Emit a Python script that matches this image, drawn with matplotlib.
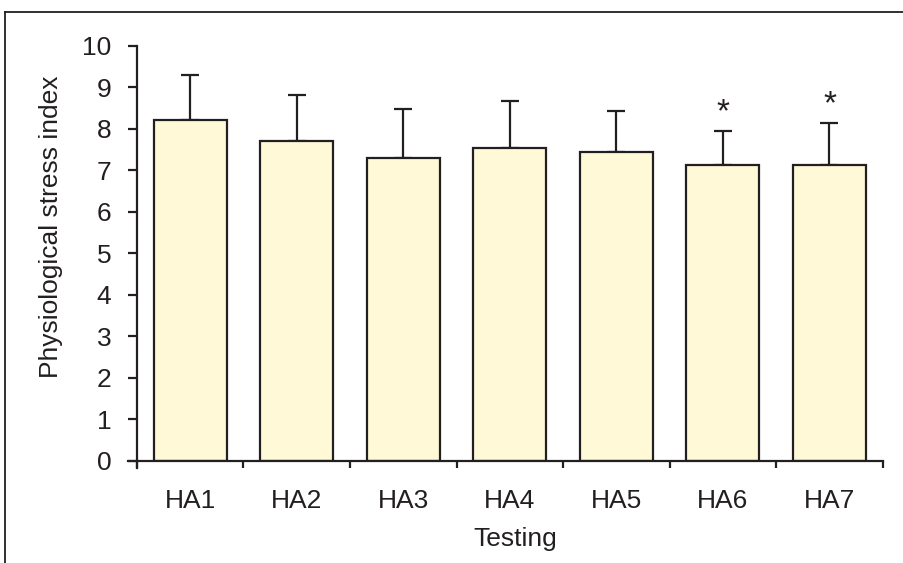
import matplotlib
matplotlib.use("Agg")
import matplotlib.pyplot as plt
from matplotlib.lines import Line2D

plt.rcParams['font.family'] = ['Liberation Sans', 'DejaVu Sans']

categories = ["HA1", "HA2", "HA3", "HA4", "HA5", "HA6", "HA7"]
means = [8.22, 7.71, 7.29, 7.54, 7.44, 7.14, 7.13]
sds = [1.09, 1.12, 1.18, 1.13, 0.99, 0.82, 1.02]
significant = [False, False, False, False, False, True, True]

ink = "#231f20"
fill = "#fff9d7"

fig = plt.figure(figsize=(9.04, 5.63), dpi=100)
ax = fig.add_axes([0.1515, 0.1812, 0.825, 0.7371])

x = list(range(len(categories)))
ax.bar(x, means, width=0.685, color=fill, edgecolor=ink, linewidth=1.6, zorder=2)
ax.errorbar(x, means, yerr=[[0] * len(sds), sds], fmt="none", ecolor=ink,
            elinewidth=1.6, capsize=6.5, capthick=1.6, zorder=1)

for xi, m, s, sig in zip(x, means, sds, significant):
    if sig:
        ax.annotate("*", xy=(xi, m + s), xytext=(0, 2), textcoords="offset points",
                    ha="center", va="bottom", fontsize=24, color=ink)

ax.set_xlim(-0.5, len(categories) - 0.5)
ax.set_ylim(0, 10)

for side in ["top", "right", "bottom", "left"]:
    ax.spines[side].set_visible(False)

# axis lines extended past the origin like the tick marks
ax.add_line(Line2D([-0.012, 1.0], [0, 0], transform=ax.transAxes, color=ink,
                   linewidth=1.6, clip_on=False))
ax.add_line(Line2D([0, 0], [-0.017, 1.0], transform=ax.transAxes, color=ink,
                   linewidth=1.6, clip_on=False))

ax.set_yticks(range(0, 11))
ax.tick_params(axis="y", direction="out", length=6.5, width=1.6, color=ink,
               labelsize=19, labelcolor=ink, pad=12)

ax.set_xticks(x)
ax.set_xticklabels(categories)
ax.set_xticks([i - 0.5 for i in range(len(categories) + 1)], minor=True)
ax.tick_params(axis="x", which="major", length=0, labelsize=19, labelcolor=ink, pad=20)
ax.tick_params(axis="x", which="minor", direction="out", length=5, width=1.6, color=ink)

ax.set_ylabel("Physiological stress index", fontsize=19, color=ink)
ax.set_xlabel("Testing", fontsize=19, color=ink)
ax.yaxis.set_label_coords(-0.099, 0.564)
ax.xaxis.set_label_coords(0.507, -0.159)

# frame around the figure
fig.add_artist(Line2D([5 / 904, 1.0], [1 - 12 / 563, 1 - 12 / 563],
                      transform=fig.transFigure, color=ink, linewidth=1.3))
fig.add_artist(Line2D([5 / 904, 5 / 904], [0, 1 - 12 / 563],
                      transform=fig.transFigure, color=ink, linewidth=1.3))

fig.savefig("out.png", dpi=100)
